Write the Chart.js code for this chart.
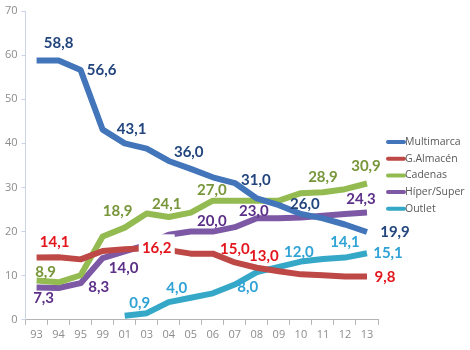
<!DOCTYPE html>
<html>
<head>
<meta charset="utf-8">
<script src="https://cdn.jsdelivr.net/npm/chart.js@4.4.0/dist/chart.umd.min.js"></script>
<style>
  html, body { margin: 0; padding: 0; background: #fff; }
  #wrap { width: 470px; height: 350px; }
</style>
</head>
<body>
<div id="wrap"><canvas id="grafico" width="470" height="350"></canvas></div>
<script>
// Datos
const years = ["93", "94", "95", "99", "01", "03", "04", "05", "06", "07", "08", "09", "10", "11", "12", "13"];
const multimarca = [58.8, 58.8, 56.6, 43.1, 40.0, 38.8, 36.0, 34.2, 32.3, 31.0, 27.5, 26.0, 24.0, 23.0, 21.6, 19.9];
const gAlmacen = [14.1, 14.2, 13.7, 15.6, 16.0, 16.2, 15.8, 15.0, 15.0, 13.0, 11.8, 11.0, 10.3, 10.1, 9.8, 9.8];
const cadenas = [8.9, 8.5, 10.1, 18.9, 20.9, 24.1, 23.3, 24.3, 27.0, 27.0, 27.0, 27.0, 28.7, 28.9, 29.6, 30.9];
const hiperSuper = [7.3, 7.2, 8.3, 14.0, 15.5, 17.0, 19.3, 20.0, 20.0, 21.0, 23.0, 23.0, 23.2, 23.6, 24.0, 24.3];
const outlet = [null, null, null, null, 0.9, 1.5, 4.0, 5.0, 6.0, 8.0, 10.8, 12.0, 13.2, 13.8, 14.1, 15.1];
const yTicks = [0, 10, 20, 30, 40, 50, 60, 70];

// etiquetas: [indice, dx, dy]
const labelPos = [
  [[1, 0, -17], [2, 21, 0], [3, 29, -1], [6, 20, -9], [9, 21, -3], [11, 26, -1], [15, 28, 0]],
  [[0, 18, -15], [5, 10, 0, true], [8, 22, -4], [9, 29, -6], [15, 18, 1]],
  [[0, 9, -8], [3, 15, -25], [5, 20, -9], [8, -1, -11], [13, 0, -15], [15, -1, -17]],
  [[0, 7, 11], [2, 18, 4], [3, 21, 10], [7, 21, -10], [10, -3, -7], [15, -6, -13]],
  [[4, 15, -13], [6, 8, -14], [9, 13, 3], [11, 20, -15], [14, 0, -15], [15, 21, 0]]
];
const labelColors = ["#22457d", "#e3161e", "#77963a", "#5c2f88", "#2fa3d6"];

const valueLabels = {
  id: "valueLabels",
  afterDatasetsDraw(chart) {
    const ctx = chart.ctx;
    ctx.save();
    ctx.font = "bold 15px Lato";
    ctx.textAlign = "center";
    ctx.textBaseline = "middle";
    labelPos.forEach((list, d) => {
      const meta = chart.getDatasetMeta(d);
      list.forEach(([i, dx, dy, bg]) => {
        const pt = meta.data[i];
        const v = chart.data.datasets[d].data[i];
        const x = pt.x + dx, y = pt.y + dy;
        if (bg) {
          ctx.fillStyle = "#fff";
          ctx.fillRect(x - 18, y - 14, 36, 26);
        }
        ctx.fillStyle = labelColors[d];
        ctx.fillText(v.toFixed(1).replace(".", ","), x, y);
      });
    });
    ctx.restore();
  }
};

const sideLegend = {
  id: "sideLegend",
  afterDraw(chart) {
    const ctx = chart.ctx;
    ctx.save();
    ctx.font = "10.5px 'Open Sans'";
    ctx.textBaseline = "middle";
    chart.data.datasets.forEach((ds, k) => {
      const y = 142 + k * 16.7;
      ctx.strokeStyle = ds.borderColor;
      ctx.lineWidth = 4;
      ctx.lineCap = "round";
      ctx.beginPath();
      ctx.moveTo(388, y);
      ctx.lineTo(404, y);
      ctx.stroke();
      ctx.fillStyle = "#595959";
      ctx.fillText(ds.label, 405, y);
    });
    ctx.restore();
  }
};

function serie(label, data, color) {
  return {
    label: label,
    data: data,
    borderColor: color,
    backgroundColor: color,
    borderWidth: 6,
    pointRadius: 0,
    tension: 0,
    borderJoinStyle: "round",
    borderCapStyle: "butt",
    spanGaps: false
  };
}

const ctx = document.getElementById("grafico").getContext("2d");
new Chart(ctx, {
  type: "line",
  data: {
    labels: years,
    datasets: [
      serie("Multimarca", multimarca, "#4275ba"),
      serie("G.Almacén", gAlmacen, "#bd4846"),
      serie("Cadenas", cadenas, "#93bb51"),
      serie("Híper/Super", hiperSuper, "#7c58a5"),
      serie("Outlet", outlet, "#35a8c8")
    ]
  },
  options: {
    responsive: false,
    animation: false,
    layout: { padding: { left: 1, top: 11, right: 92, bottom: 6 } },
    plugins: { legend: { display: false }, tooltip: { enabled: false } },
    scales: {
      x: {
        offset: true,
        grid: { offset: true, drawOnChartArea: false, tickLength: 5, color: "#b4b4b4" },
        border: { color: "#b4b4b4" },
        ticks: { color: "#8c8c8c", font: { family: "'Open Sans'", size: 11 }, maxRotation: 0, autoSkip: false, padding: 3 }
      },
      y: {
        min: 0,
        max: 70,
        afterBuildTicks(axis) { axis.ticks = yTicks.map(v => ({ value: v })); },
        grid: { drawOnChartArea: false, tickLength: 4, color: "#c8d4e6" },
        border: { color: "#c8d4e6" },
        ticks: { color: "#8c8c8c", font: { family: "'Open Sans'", size: 11 }, padding: 4 }
      }
    }
  },
  plugins: [valueLabels, sideLegend]
});
</script>
</body>
</html>
